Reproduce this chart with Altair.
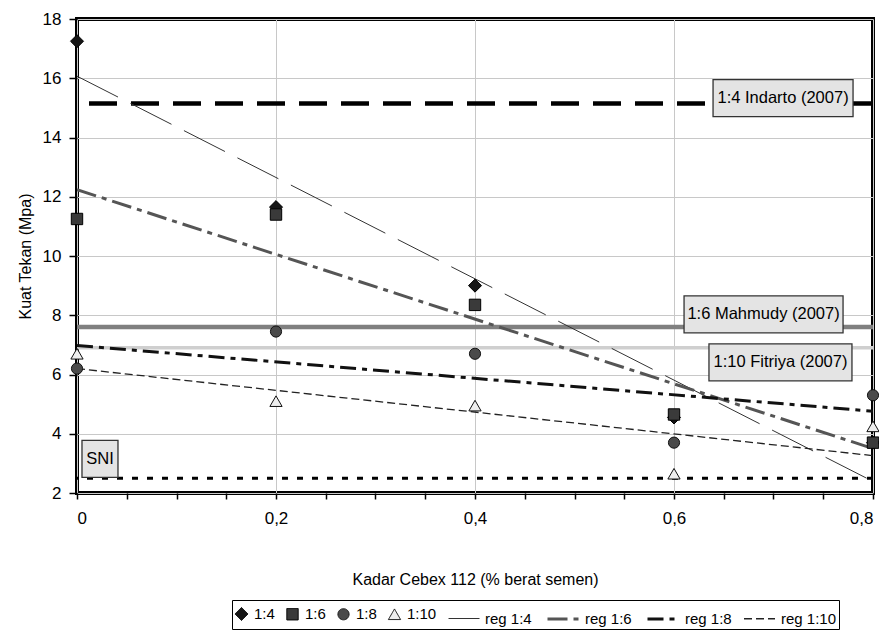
import altair as alt
import pandas as pd

FONT = "Liberation Sans"

# ---- data ----
kadar = [0, 0.2, 0.4, 0.6, 0.8]
series_names = ["1:4", "1:6", "1:8", "1:10"]
kuat_14 = [17.25, 11.65, 9.0, 4.55, 3.7]
kuat_16 = [11.25, 11.4, 8.35, 4.65, 3.7]
kuat_18 = [6.2, 7.45, 6.7, 3.7, 5.3]
kuat_110 = [6.7, 5.1, 4.95, 2.65, 4.25]
legend_labels = series_names + ["reg " + s for s in series_names]

ref_names = ["1:4 Indarto (2007)", "1:6 Mahmudy (2007)", "1:10 Fitriya (2007)", "SNI"]
ref_values = [15.15, 7.6, 6.9, 2.5]
ref_label_x = [0.7096, 0.690, 0.707, 0.0231]
ref_label_y = [15.33, 8.03, 6.41, 3.15]

x_ticks = [round(i * 0.05, 2) for i in range(17)]
y_ticks = list(range(2, 19))

rows = []
for name, vals in zip(series_names, [kuat_14, kuat_16, kuat_18, kuat_110]):
    for xv, yv in zip(kadar, vals):
        rows.append({"kadar": xv, "kuat": yv, "series": name})
df = pd.DataFrame(rows)
ref_df = pd.DataFrame({"name": ref_names, "value": ref_values,
                       "lx": ref_label_x, "ly": ref_label_y})

# ---- styles ----
shape_range = ["diamond", "square", "circle", "triangle-up", "stroke", "stroke", "stroke", "stroke"]
fill_range = ["#151515", "#3a3a3a", "#4a4a4a", "#eeeeee",
              "transparent", "transparent", "transparent", "transparent"]
stroke_range = ["#000000", "#000000", "#111111", "#111111",
                "#333333", "#555555", "#111111", "#222222"]
size_range = [170, 130, 125, 150, 961, 961, 961, 961]
dash_range = [[1, 0], [1, 0], [1, 0], [1, 0], [46, 14], [20, 6, 5, 6], [16, 6, 5, 6], [8, 4]]
sw_range = [1, 1, 1, 1, 1, 3, 3, 1.3]


def sc(rng, **kw):
    return alt.Scale(domain=legend_labels, range=rng, **kw)


xenc = alt.X("kadar:Q", scale=alt.Scale(domain=[0, 0.8], nice=False),
             title="Kadar Cebex 112 (% berat semen)",
             axis=alt.Axis(values=x_ticks,
                           labelExpr="abs(datum.value*5 - round(datum.value*5)) < 0.001 ? replace(format(datum.value, '.1~f'), '.', ',') : ''",
                           gridOpacity={"condition": {"test": "abs(datum.value*5 - round(datum.value*5)) < 0.001", "value": 1}, "value": 0},
                           tickSize=6, labelPadding=11, titlePadding=45))
yenc = alt.Y("kuat:Q", scale=alt.Scale(domain=[2, 18], nice=False),
             title="Kuat Tekan (Mpa)",
             axis=alt.Axis(values=y_ticks,
                           labelExpr="datum.value % 2 == 0 ? datum.label : ''",
                           gridOpacity={"condition": {"test": "datum.value % 2 == 0", "value": 1}, "value": 0},
                           tickSize=8, labelPadding=8, titlePadding=9))

layers = []

# reference lines
rule_styles = [
    dict(color="#000000", strokeWidth=4.5, strokeDash=[28, 14]),
    dict(color="#808080", strokeWidth=4.5),
    dict(color="#cfcfcf", strokeWidth=3.5),
    dict(color="#000000", strokeWidth=3, strokeDash=[6, 9]),
]
for i, st in enumerate(rule_styles):
    layers.append(alt.Chart(ref_df.iloc[[i]]).mark_rule(**st).encode(
        y=alt.Y("value:Q", scale=alt.Scale(domain=[2, 18], nice=False))))

# regression lines
reg = alt.Chart(df).transform_regression(
    "kadar", "kuat", groupby=["series"]
).transform_calculate(label="'reg ' + datum.series").mark_line(clip=True).encode(
    x=xenc, y=yenc,
    stroke=alt.Stroke("label:N", scale=sc(stroke_range), title=None),
    strokeDash=alt.StrokeDash("label:N", scale=sc(dash_range), title=None),
    strokeWidth=alt.StrokeWidth("label:N", scale=sc(sw_range, type="ordinal"), title=None),
)
layers.append(reg)

# label boxes
box_widths = [140, 159, 143, 36]
for i, w in enumerate(box_widths):
    layers.append(alt.Chart(ref_df.iloc[[i]]).mark_rect(
        width=w, height=37, fill="#e4e4e4", stroke="#333333", strokeWidth=1.3
    ).encode(x=alt.X("lx:Q"), y=alt.Y("ly:Q")))
layers.append(alt.Chart(ref_df).mark_text(font=FONT, fontSize=16.5, color="#000").encode(
    x="lx:Q", y="ly:Q", text="name:N"))

# points
pts = alt.Chart(df).transform_calculate(label="datum.series").mark_point(
    opacity=1, strokeWidth=1, clip=False
).encode(
    x=xenc, y=yenc,
    shape=alt.Shape("label:N", scale=sc(shape_range), title=None),
    fill=alt.Fill("label:N", scale=sc(fill_range), title=None),
    stroke=alt.Stroke("label:N", scale=sc(stroke_range), title=None),
    size=alt.Size("label:N", scale=sc(size_range, type="ordinal"), title=None),
)
layers.append(pts)

chart = alt.layer(*layers).properties(
    width=796, height=474,
    autosize=alt.AutoSizeParams(type="none"),
    padding={"left": 69, "top": 11, "right": 6, "bottom": 141},
).configure_view(stroke="#000000", strokeWidth=4).configure_axis(
    domain=False, gridColor="#c8c8c8", gridWidth=1, tickColor="#000", tickWidth=1.5,
    labelFont=FONT, labelFontSize=17, labelColor="#000",
    titleFont=FONT, titleFontSize=16, titleFontWeight="normal", titleColor="#000",
).configure_legend(
    orient="none", legendX=155, legendY=581, direction="horizontal",
    strokeColor="#000", padding=2, labelFont=FONT, labelFontSize=15, labelColor="#000",
    columnPadding=9, labelOffset=5,
)

chart.save("out.html", embed_options={"renderer": "svg", "actions": False})
